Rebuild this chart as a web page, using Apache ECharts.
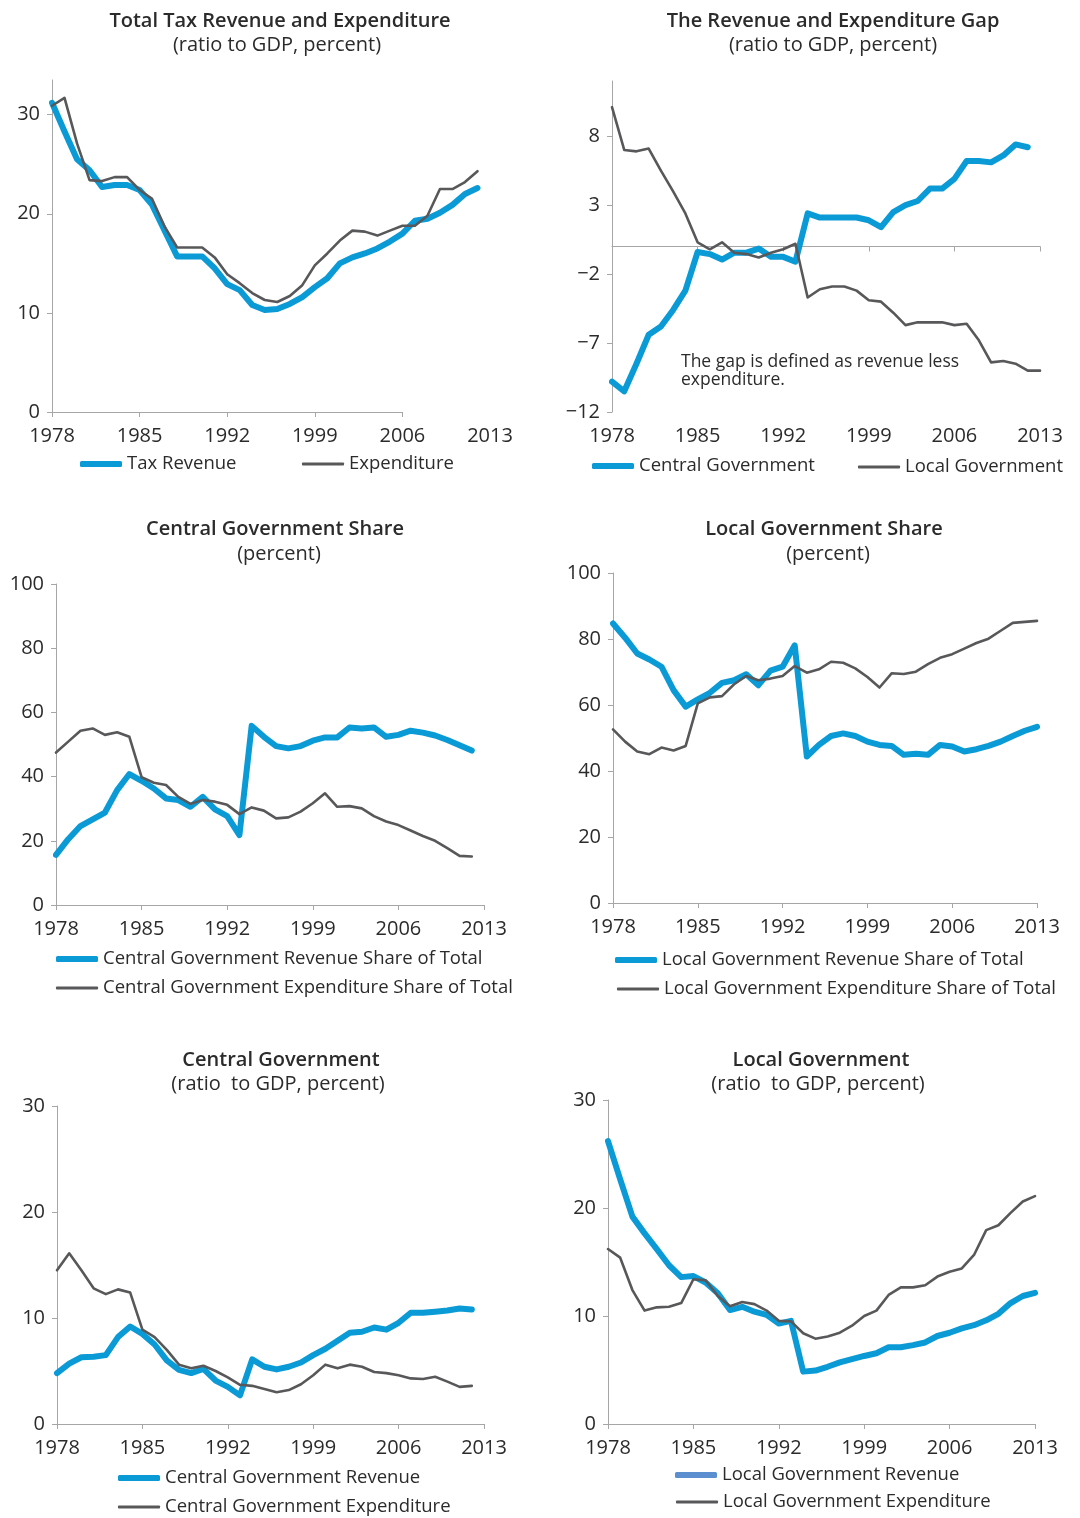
<!DOCTYPE html>
<html>
<head>
<meta charset="utf-8">
<title>Revenue and Expenditure</title>
<script src="https://cdn.jsdelivr.net/npm/echarts@6/dist/echarts.min.js"></script>
<style>
    html, body { margin: 0; padding: 0; background: #fff; }
    #chart { width: 1080px; height: 1518px; }
</style>
</head>
<body>
<div id="chart"></div>
<script>
var years = ['1978', '1979', '1980', '1981', '1982', '1983', '1984', '1985', '1986', '1987',
    '1988', '1989', '1990', '1991', '1992', '1993', '1994', '1995', '1996', '1997',
    '1998', '1999', '2000', '2001', '2002', '2003', '2004', '2005', '2006', '2007',
    '2008', '2009', '2010', '2011', '2012', '2013'];

// 总税收与支出 (占GDP %)
var taxRevenue = [31.2, 28.3, 25.5, 24.4, 22.7, 22.9, 22.9, 22.4, 20.9, 18.3,
    15.7, 15.7, 15.7, 14.5, 12.9, 12.3, 10.8, 10.3, 10.4, 10.9,
    11.6, 12.6, 13.5, 15.0, 15.6, 16.0, 16.5, 17.2, 18.0, 19.3,
    19.5, 20.1, 20.9, 22.0, 22.6, null];
var expenditure = [30.9, 31.7, 27.1, 23.4, 23.3, 23.7, 23.7, 22.4, 21.5, 18.7,
    16.6, 16.6, 16.6, 15.6, 13.9, 13.0, 12.0, 11.3, 11.1, 11.7,
    12.8, 14.8, 16.0, 17.3, 18.3, 18.2, 17.8, 18.3, 18.8, 18.8,
    19.8, 22.5, 22.5, 23.2, 24.3, null];

// 收支缺口
var centralGap = [-9.8, -10.5, -8.5, -6.4, -5.8, -4.6, -3.2, -0.4, -0.55, -0.95,
    -0.45, -0.45, -0.15, -0.75, -0.75, -1.1, 2.4, 2.1, 2.1, 2.1,
    2.1, 1.9, 1.4, 2.5, 3.0, 3.3, 4.2, 4.2, 4.9, 6.2,
    6.2, 6.1, 6.6, 7.4, 7.2, null];
var localGap = [10.1, 7.0, 6.9, 7.1, 5.5, 4.0, 2.4, 0.3, -0.2, 0.3,
    -0.45, -0.55, -0.8, -0.45, -0.2, 0.2, -3.7, -3.1, -2.9, -2.9,
    -3.2, -3.9, -4.0, -4.8, -5.7, -5.5, -5.5, -5.5, -5.7, -5.6,
    -6.8, -8.4, -8.3, -8.5, -9.0, -9.0];

// 中央占比
var centralRevShare = [15.6, 20.5, 24.6, 26.7, 28.8, 35.8, 40.8, 38.7, 36.3, 33.2,
    32.7, 30.6, 33.7, 29.8, 27.7, 21.8, 55.8, 52.4, 49.5, 48.8,
    49.5, 51.2, 52.2, 52.2, 55.3, 55.0, 55.3, 52.4, 53.0, 54.3,
    53.7, 52.8, 51.4, 49.8, 48.1, null];
var centralExpShare = [47.5, 50.9, 54.3, 55.0, 53.0, 53.8, 52.4, 39.8, 38.1, 37.4,
    33.7, 31.5, 32.7, 32.2, 31.2, 28.3, 30.4, 29.4, 27.0, 27.3,
    29.1, 31.7, 34.8, 30.6, 30.8, 30.1, 27.7, 26.0, 24.9, 23.2,
    21.5, 20.0, 17.7, 15.3, 15.1, null];

// 地方占比
var localRevShare = [84.7, 80.4, 75.6, 73.8, 71.6, 64.5, 59.5, 61.7, 63.7, 66.7,
    67.5, 69.3, 66.0, 70.4, 71.6, 78.1, 44.4, 47.9, 50.6, 51.4,
    50.6, 48.9, 47.9, 47.6, 44.9, 45.2, 44.9, 47.9, 47.4, 45.9,
    46.6, 47.6, 48.9, 50.6, 52.2, 53.4];
var localExpShare = [52.6, 48.9, 45.9, 45.1, 47.1, 46.2, 47.6, 60.5, 62.3, 62.7,
    66.3, 68.8, 67.5, 68.0, 68.8, 71.8, 69.8, 70.8, 73.1, 72.8,
    71.1, 68.5, 65.3, 69.6, 69.4, 70.1, 72.4, 74.3, 75.4, 77.1,
    78.8, 80.1, 82.5, 84.9, 85.2, 85.5];

// 中央 (占GDP %)
var centralRev = [4.8, 5.7, 6.3, 6.35, 6.5, 8.2, 9.2, 8.5, 7.5, 6.0,
    5.1, 4.8, 5.2, 4.1, 3.5, 2.7, 6.1, 5.4, 5.15, 5.4,
    5.8, 6.5, 7.1, 7.85, 8.6, 8.7, 9.1, 8.9, 9.55, 10.5,
    10.5, 10.6, 10.7, 10.9, 10.8, null];
var centralExp = [14.5, 16.1, 14.5, 12.8, 12.25, 12.7, 12.4, 8.9, 8.2, 7.0,
    5.6, 5.25, 5.5, 5.0, 4.4, 3.7, 3.6, 3.3, 3.0, 3.2,
    3.75, 4.6, 5.6, 5.25, 5.6, 5.4, 4.9, 4.8, 4.6, 4.3,
    4.25, 4.45, 4.0, 3.5, 3.6, null];

// 地方 (占GDP %)
var localRev = [26.2, 22.65, 19.2, 17.65, 16.2, 14.7, 13.6, 13.7, 13.1, 12.1,
    10.55, 10.85, 10.4, 10.1, 9.3, 9.55, 4.85, 4.95, 5.3, 5.7,
    6.0, 6.3, 6.55, 7.1, 7.1, 7.3, 7.55, 8.15, 8.45, 8.85,
    9.15, 9.6, 10.2, 11.2, 11.85, 12.15];
var localExp = [16.2, 15.4, 12.4, 10.5, 10.8, 10.85, 11.2, 13.4, 13.3, 11.85,
    10.9, 11.3, 11.1, 10.5, 9.55, 9.5, 8.4, 7.9, 8.1, 8.45,
    9.1, 10.0, 10.5, 11.95, 12.65, 12.65, 12.85, 13.65, 14.1, 14.4,
    15.65, 17.95, 18.4, 19.55, 20.6, 21.1];

// y轴刻度
var ticksTax = [0, 10, 20, 30];
var ticksGap = [-12, -7, -2, 3, 8];
var ticksShare = [0, 20, 40, 60, 80, 100];
var ticksGdp = [0, 10, 20, 30];

var blue = '#0a9ad6';
var gray = '#58585a';
var axisGray = '#a6a6a6';
var textColor = '#2b2b2b';
var fontFamily = '"Open Sans", Lato, sans-serif';

/**
 * x轴 (年份)
 */
function xAxisFor(grid) {
    return {
        type: 'category',
        gridIndex: grid,
        data: years,
        boundaryGap: false,
        position: 'bottom',
        axisLine: { show: true, onZero: false, lineStyle: { color: axisGray, width: 1 } },
        axisTick: { show: true, interval: 6, length: 5, lineStyle: { color: axisGray } },
        axisLabel: { interval: 6, color: textColor, fontSize: 20, fontFamily: fontFamily, margin: 14 },
        splitLine: { show: false }
    };
}

/**
 * y轴
 */
function yAxisFor(grid, min, max, ticks) {
    return {
        type: 'value',
        gridIndex: grid,
        min: min,
        max: max,
        axisLine: { show: true, lineStyle: { color: axisGray, width: 1 } },
        axisTick: { show: true, length: 5, customValues: ticks, lineStyle: { color: axisGray } },
        axisLabel: {
            customValues: ticks,
            color: textColor,
            fontSize: 20,
            fontFamily: fontFamily,
            margin: 12,
            formatter: function (v) { return String(v).replace('-', '\u2212'); }
        },
        splitLine: { show: false }
    };
}

function lineFor(name, data, axis, color, width) {
    return {
        name: name,
        type: 'line',
        xAxisIndex: axis,
        yAxisIndex: axis,
        data: data,
        symbol: 'none',
        showSymbol: false,
        color: color,
        lineStyle: { color: color, width: width, cap: 'round', join: 'round' },
        emphasis: { disabled: true },
        z: width > 4 ? 2 : 3
    };
}

function legendFor(name, left, centerY, color, height) {
    return {
        data: [{ name: name, icon: 'roundRect', itemStyle: { color: color, borderWidth: 0 } }],
        left: left,
        top: centerY - 11,
        padding: 0,
        itemWidth: 42,
        itemHeight: height,
        itemGap: 0,
        selectedMode: false,
        textStyle: { color: textColor, fontSize: 18.5, fontFamily: fontFamily, lineHeight: 22 }
    };
}

function textFor(text, x, y, size, weight) {
    return {
        type: 'text',
        x: x,
        y: y,
        silent: true,
        style: {
            text: text,
            fill: textColor,
            fontSize: size,
            fontWeight: weight,
            fontFamily: fontFamily,
            align: 'center',
            verticalAlign: 'middle'
        }
    };
}

var chart = echarts.init(document.getElementById('chart'), null, { renderer: 'canvas' });

var xAxes = [0, 1, 2, 3, 4, 5].map(xAxisFor);
// 第一幅图的x轴线只画到2006
xAxes[0].axisLine.show = false;
xAxes[0].axisTick.interval = function (i) { return i % 7 === 0 && i < 35; };
// 缺口图: 轴线在0处, 标签在底部
xAxes[1].axisLine.onZero = true;
xAxes[1].axisLabel = { show: false };
var gapLabels = xAxisFor(1);
gapLabels.axisLine = { show: false, onZero: false };
gapLabels.axisTick = { show: false };
xAxes.push(gapLabels);

var expSeries = lineFor('Expenditure', expenditure, 0, gray, 2.6);
expSeries.markLine = {
    silent: true,
    symbol: ['none', 'none'],
    label: { show: false },
    lineStyle: { color: axisGray, width: 1, type: 'solid' },
    data: [[{ coord: [years[0], 0] }, { coord: [years[28], 0] }]]
};

var option = {
    animation: false,
    backgroundColor: '#ffffff',
    grid: [
        { left: 52, top: 80, width: 438, height: 332, outerBoundsMode: 'none' },
        { left: 612, top: 81, width: 428, height: 331, outerBoundsMode: 'none' },
        { left: 56, top: 584, width: 428, height: 321, outerBoundsMode: 'none' },
        { left: 613, top: 573, width: 424, height: 330, outerBoundsMode: 'none' },
        { left: 57, top: 1106, width: 427, height: 318, outerBoundsMode: 'none' },
        { left: 608, top: 1100, width: 427, height: 324, outerBoundsMode: 'none' }
    ],
    xAxis: xAxes,
    yAxis: [
        yAxisFor(0, 0, 33.5, ticksTax),
        yAxisFor(1, -12, 12, ticksGap),
        yAxisFor(2, 0, 100, ticksShare),
        yAxisFor(3, 0, 100, ticksShare),
        yAxisFor(4, 0, 30, ticksGdp),
        yAxisFor(5, 0, 30, ticksGdp)
    ],
    legend: [
        legendFor('Tax Revenue', 80, 464, blue, 6),
        legendFor('Expenditure', 302, 464, gray, 3),
        legendFor('Central Government', 592, 466, blue, 6),
        legendFor('Local Government', 858, 467, gray, 3),
        legendFor('Central Government Revenue Share of Total', 56, 959, blue, 6),
        legendFor('Central Government Expenditure Share of Total', 56, 988, gray, 3),
        legendFor('Local Government Revenue Share of Total', 615, 960, blue, 6),
        legendFor('Local Government Expenditure Share of Total', 617, 989, gray, 3),
        legendFor('Central Government Revenue', 118, 1478, blue, 6),
        legendFor('Central Government Expenditure', 118, 1507, gray, 3),
        legendFor('Local Government Revenue', 675, 1475, '#5b8fcf', 6),
        legendFor('Local Government Expenditure', 676, 1502, gray, 3)
    ],
    series: [
        lineFor('Tax Revenue', taxRevenue, 0, blue, 6),
        expSeries,
        lineFor('Central Government', centralGap, 1, blue, 6),
        lineFor('Local Government', localGap, 1, gray, 2.6),
        lineFor('Central Government Revenue Share of Total', centralRevShare, 2, blue, 6),
        lineFor('Central Government Expenditure Share of Total', centralExpShare, 2, gray, 2.6),
        lineFor('Local Government Revenue Share of Total', localRevShare, 3, blue, 6),
        lineFor('Local Government Expenditure Share of Total', localExpShare, 3, gray, 2.6),
        lineFor('Central Government Revenue', centralRev, 4, blue, 6),
        lineFor('Central Government Expenditure', centralExp, 4, gray, 2.6),
        lineFor('Local Government Revenue', localRev, 5, blue, 6),
        lineFor('Local Government Expenditure', localExp, 5, gray, 2.6)
    ],
    graphic: [
        textFor('Total Tax Revenue and Expenditure', 280, 21, 20, 600),
        textFor('(ratio to GDP, percent)', 277, 45, 20, 'normal'),
        textFor('The Revenue and Expenditure Gap', 833, 21, 20, 600),
        textFor('(ratio to GDP, percent)', 833, 45, 20, 'normal'),
        textFor('Central Government Share', 275, 529, 20, 600),
        textFor('(percent)', 279, 554, 20, 'normal'),
        textFor('Local Government Share', 824, 529, 20, 600),
        textFor('(percent)', 828, 554, 20, 'normal'),
        textFor('Central Government', 281, 1060, 20, 600),
        textFor('(ratio  to GDP, percent)', 278, 1084, 20, 'normal'),
        textFor('Local Government', 821, 1060, 20, 600),
        textFor('(ratio  to GDP, percent)', 818, 1084, 20, 'normal'),
        {
            type: 'text',
            x: 681,
            y: 353,
            silent: true,
            style: {
                text: 'The gap is defined as revenue less\nexpenditure.',
                fill: textColor,
                fontSize: 17.5,
                lineHeight: 18,
                fontFamily: fontFamily,
                align: 'left',
                verticalAlign: 'top'
            }
        }
    ]
};

chart.setOption(option);
</script>
</body>
</html>
